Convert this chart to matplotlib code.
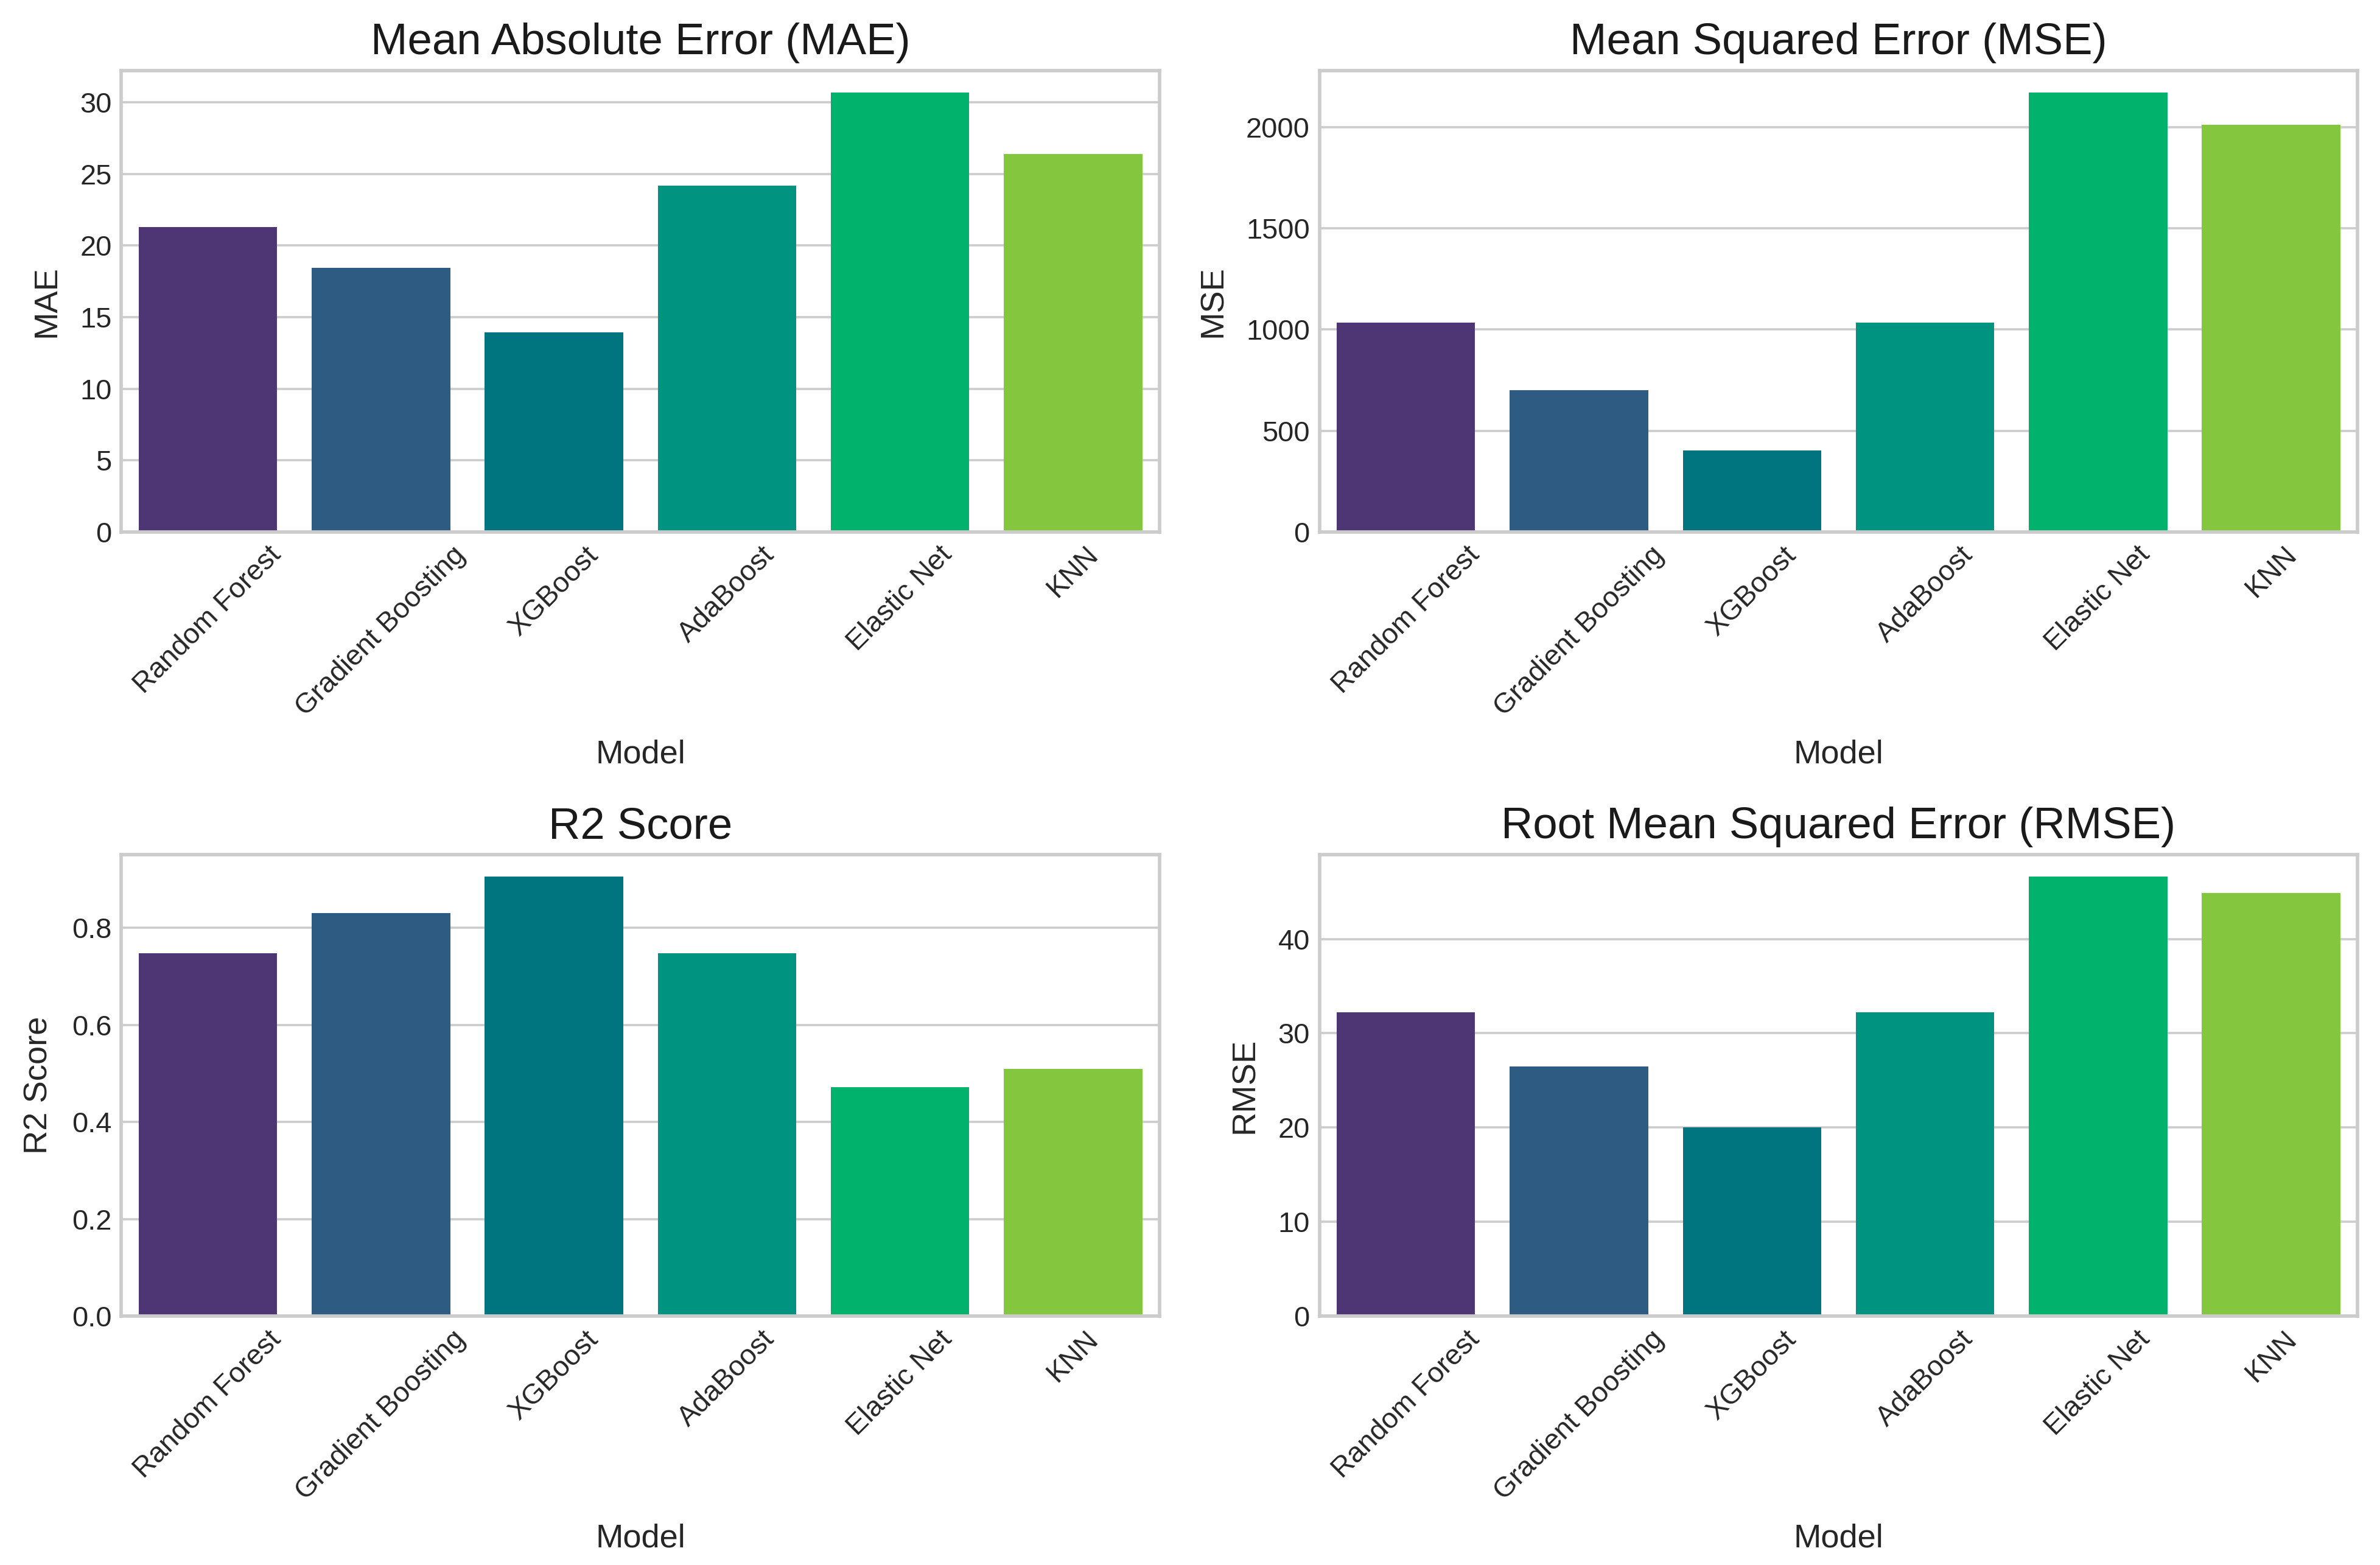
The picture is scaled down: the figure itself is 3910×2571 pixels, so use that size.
import numpy as np
import matplotlib
matplotlib.use("Agg")
import matplotlib.pyplot as plt

models = ["Random Forest", "Gradient Boosting", "XGBoost", "AdaBoost", "Elastic Net", "KNN"]
mae = [21.3, 18.45, 13.95, 24.2, 30.7, 26.4]
mse = [1036, 700, 402, 1036, 2173, 2013]
r2 = [0.748, 0.830, 0.905, 0.748, 0.472, 0.509]
rmse = [32.2, 26.45, 20.05, 32.2, 46.6, 44.9]

bar_colors = ["#4e3675", "#2e5b82", "#00757f", "#009380", "#00b26c", "#84c63e"]

plt.style.use("seaborn-v0_8-whitegrid")
plt.rcParams["font.family"] = ["Liberation Sans", "DejaVu Sans"]
plt.rcParams["axes.edgecolor"] = "#cccccc"
plt.rcParams["axes.linewidth"] = 1.25
plt.rcParams["grid.color"] = "#cccccc"
plt.rcParams["text.color"] = "#262626"

fig, axes = plt.subplots(2, 2, figsize=(3910 / 326, 2571 / 326), dpi=326)

panels = [
    (axes[0, 0], mae, "Mean Absolute Error (MAE)", "MAE"),
    (axes[0, 1], mse, "Mean Squared Error (MSE)", "MSE"),
    (axes[1, 0], r2, "R2 Score", "R2 Score"),
    (axes[1, 1], rmse, "Root Mean Squared Error (RMSE)", "RMSE"),
]

x = np.arange(len(models))
for ax, vals, title, ylabel in panels:
    ax.bar(x, vals, width=0.8, color=bar_colors, zorder=2)
    ax.set_xlim(-0.5, len(models) - 0.5)
    ax.set_xticks(x)
    ax.set_xticklabels(models, rotation=45, fontsize=10.3, color="#262626")
    ax.tick_params(axis="y", labelsize=10.4, labelcolor="#262626")
    ax.set_title(title, fontsize=16, color="#1a1a1a")
    ax.set_xlabel("Model", fontsize=12, color="#262626", labelpad=6.5)
    ax.set_ylabel(ylabel, fontsize=12, color="#262626", labelpad=6.5)
    ax.grid(axis="x", visible=False)
    for s in ax.spines.values():
        s.set_color("#cccccc")

plt.subplots_adjust(left=0.051, right=0.9906, top=0.955, bottom=0.159,
                    wspace=0.154, hspace=0.70)
plt.savefig("out.png", dpi=326)
